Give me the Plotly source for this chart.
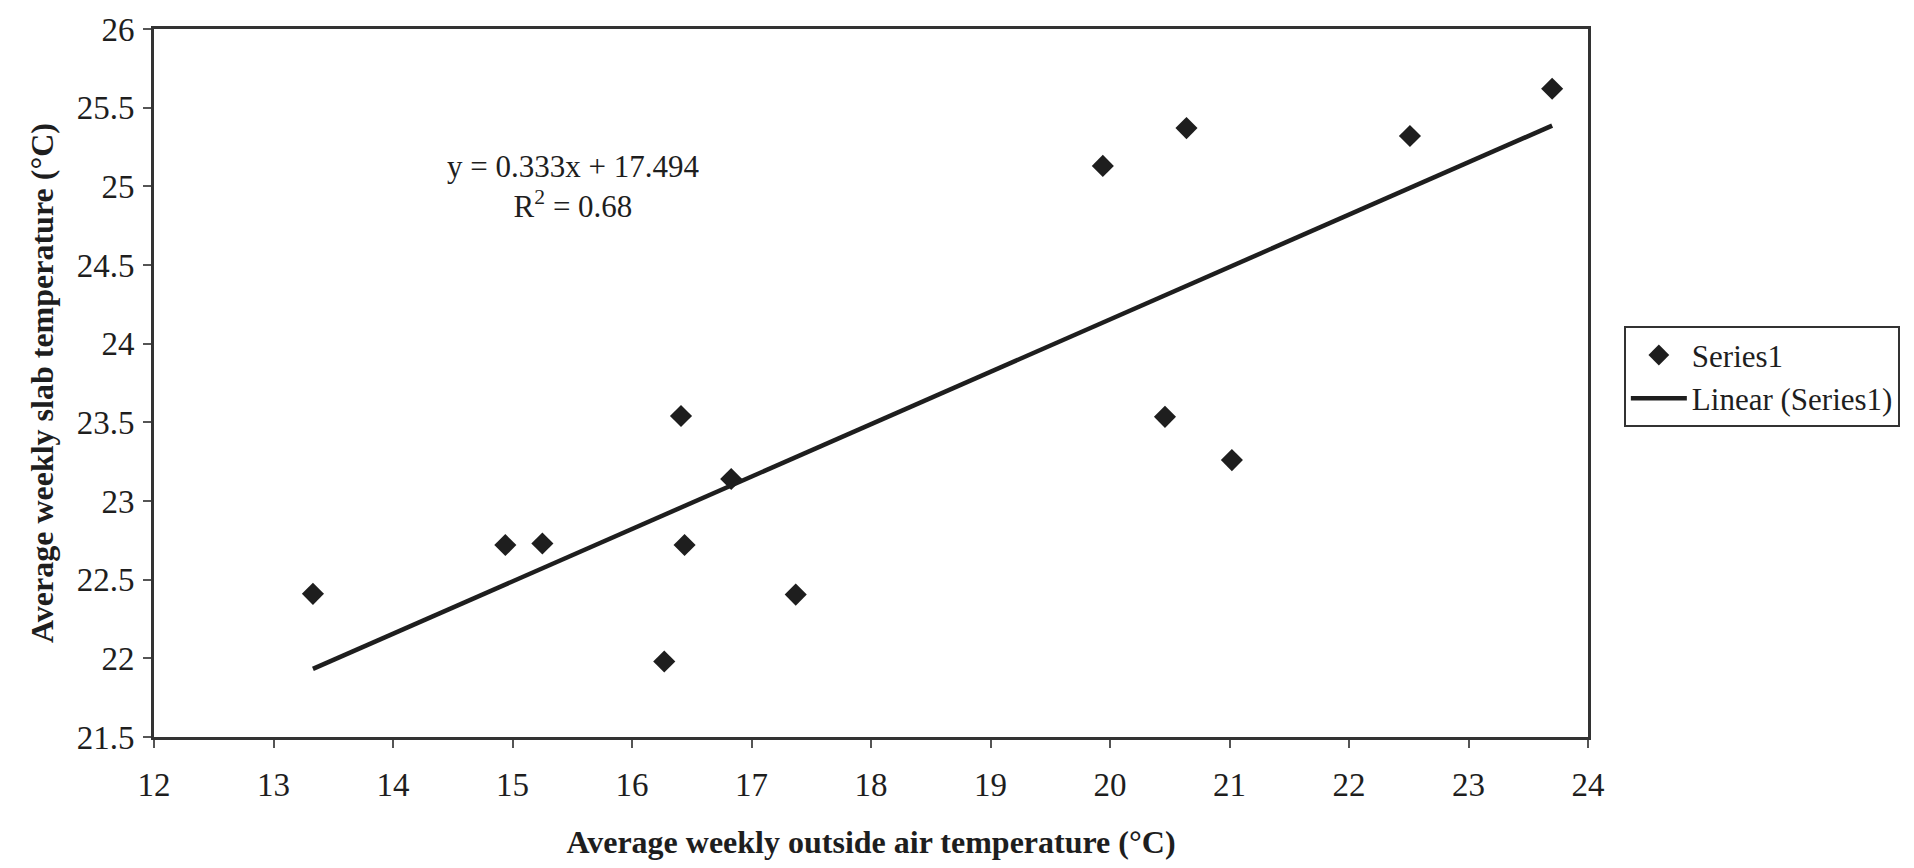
import plotly.graph_objects as go

outside_temp = [13.33, 14.94, 15.25, 16.27, 16.41, 16.44, 16.83, 17.37, 19.94, 20.46, 20.64, 21.02, 22.51, 23.70]
slab_temp = [22.41, 22.72, 22.73, 21.98, 23.54, 22.72, 23.14, 22.405, 25.13, 23.535, 25.37, 23.26, 25.32, 25.62]
slope = 0.333
intercept = 17.494
r_squared = 0.68
x_ticks = list(range(12, 25))
y_ticks = [21.5, 22, 22.5, 23, 23.5, 24, 24.5, 25, 25.5, 26]

trend_x = [min(outside_temp), max(outside_temp)]
trend_y = [slope * v + intercept for v in trend_x]

FONT = "Liberation Serif, Times New Roman, serif"
INK = "#1e1e1e"

fig = go.Figure()
fig.add_trace(go.Scatter(
    x=outside_temp, y=slab_temp, mode="markers", name="Series1",
    marker=dict(symbol="diamond", size=17, color=INK),
))
fig.add_trace(go.Scatter(
    x=trend_x, y=trend_y, mode="lines", name="Linear (Series1)",
    line=dict(color=INK, width=4.5),
))

fig.add_annotation(
    x=15.51, y=25.0, xref="x", yref="y", showarrow=False,
    text=f"y = {slope}x + {intercept}<br>R<sup>2</sup> = {r_squared}",
    font=dict(family=FONT, size=31, color=INK), align="center",
)

axis_common = dict(
    showline=True, linecolor="#333333", linewidth=3, mirror=True,
    ticks="outside", ticklen=8, tickwidth=2, tickcolor="#555555",
    showgrid=False, zeroline=False,
    tickfont=dict(family=FONT, size=33, color=INK),
)

fig.update_layout(
    width=1914, height=868,
    margin=dict(l=154, r=326, t=20, b=131),
    paper_bgcolor="white", plot_bgcolor="white",
    xaxis=dict(range=[12, 24], tickvals=x_ticks, ticklabelstandoff=8,
               title=dict(text="<b>Average weekly outside air temperature (°C)</b>",
                          font=dict(family=FONT, size=32, color=INK), standoff=30),
               **axis_common),
    yaxis=dict(range=[21.5, 26], tickvals=y_ticks, ticklabelstandoff=2,
               title=dict(text="<b>Average weekly slab temperature (°C)</b>",
                          font=dict(family=FONT, size=32, color=INK), standoff=14),
               **axis_common),
    legend=dict(x=1.025, y=0.58, xanchor="left", yanchor="top",
                bordercolor="#333333", borderwidth=2, bgcolor="white",
                font=dict(family=FONT, size=31, color=INK),
                tracegroupgap=0, itemwidth=56),
    showlegend=True,
)

fig.write_html("out.html")
